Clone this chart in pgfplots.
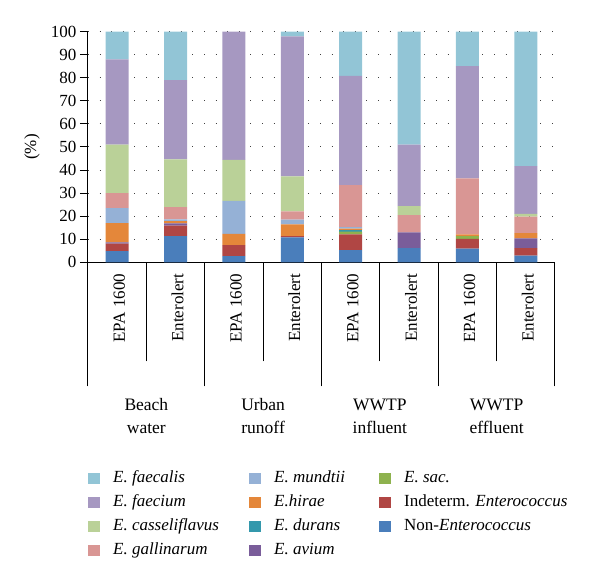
\documentclass[border=0pt]{standalone}
\usepackage{pgfplots}
\pgfplotsset{compat=1.18}
\usepackage{fontspec}
\setmainfont{Liberation Serif}
\definecolor{cFaecalis}{RGB}{146,197,214}
\definecolor{cFaecium}{RGB}{166,152,193}
\definecolor{cCass}{RGB}{186,209,152}
\definecolor{cGall}{RGB}{217,150,148}
\definecolor{cMund}{RGB}{149,177,214}
\definecolor{cHirae}{RGB}{228,135,58}
\definecolor{cDurans}{RGB}{52,152,172}
\definecolor{cAvium}{RGB}{122,93,154}
\definecolor{cSac}{RGB}{142,178,78}
\definecolor{cIndet}{RGB}{176,70,68}
\definecolor{cNonEnt}{RGB}{74,126,187}
\begin{document}
\begin{tikzpicture}[font=\fontsize{17}{20.4}\selectfont]
\useasboundingbox (0,0) rectangle (600pt,581pt);
\begin{axis}[
  at={(88pt,318.7pt)}, anchor=south west,
  scale only axis, width=467pt, height=230.6pt,
  ybar stacked, bar width=23pt,
  xmin=-0.5, xmax=7.5, ymin=0, ymax=100,
  axis x line*=bottom, axis y line*=left,
  axis line style={-, line width=1pt, black},
  ytick={0,10,...,100},
  /pgf/number format/assume math mode=true,
  tick align=outside,
  major tick length=8pt,
  every tick/.style={black, line width=1pt},
  ymajorgrids,
  major grid style={black!75, line width=1pt, dash pattern=on 1pt off 10.6pt},
  xtick={0,...,7},
  xticklabels={EPA 1600,Enterolert,EPA 1600,Enterolert,EPA 1600,Enterolert,EPA 1600,Enterolert},
  xticklabel style={rotate=90, anchor=east, yshift=-2pt},
  every major x tick/.append style={draw=none},
  minor xtick={0.5,2.5,4.5,6.5},
  minor tick length=99pt,
  every minor x tick/.append style={draw=black, line width=1pt},
  extra x ticks={-0.5,1.5,3.5,5.5,7.5},
  extra x tick labels={},
  extra x tick style={major tick length=124pt, every major x tick/.append style={draw=black, line width=1pt}, grid=none},
  ylabel={(\%)},
  ylabel style={at={(axis description cs:-0.12,0.5)}, anchor=center},
  clip=false,
  legend columns=3,
  legend image code/.code={\fill[#1, draw=none] (0pt,-5.5pt) rectangle (12pt,5.5pt);},
  legend style={at={(axis description cs:0,-0.9)}, anchor=north west, draw=none, fill=none, inner sep=0pt,
    nodes={inner xsep=0pt, inner ysep=0pt, text height=12pt, text depth=4pt},
    row sep=8.3pt,
    /tikz/every odd column/.append style={column sep=13pt},
    /tikz/every even column/.append style={column sep=0pt},
    legend cell align=left},
]
% bottom to top: Non-Ent, Indeterm, sac, avium, durans, hirae, mundtii, gallinarum, casseliflavus, faecium, faecalis
\addplot[fill=cNonEnt, draw=none, forget plot] coordinates {(0,4.9) (1,11.4) (2,2.7) (3,10.8) (4,5.3) (5,6.1) (6,5.9) (7,2.9)};
\addplot[fill=cIndet, draw=none, forget plot] coordinates {(0,3.2) (1,4.5) (2,4.8) (3,0.5) (4,6.8) (5,0) (6,4.3) (7,3.2)};
\addplot[fill=cSac, draw=none, forget plot] coordinates {(0,0) (1,0) (2,0) (3,0) (4,1.2) (5,0) (6,1.2) (7,0)};
\addplot[fill=cAvium, draw=none, forget plot] coordinates {(0,0.5) (1,1.0) (2,0) (3,0) (4,0) (5,6.9) (6,0) (7,4.3)};
\addplot[fill=cDurans, draw=none, forget plot] coordinates {(0,0) (1,0) (2,0) (3,0) (4,0.6) (5,0) (6,0) (7,0)};
\addplot[fill=cHirae, draw=none, forget plot] coordinates {(0,8.4) (1,1.0) (2,4.8) (3,5.2) (4,0.7) (5,0) (6,0.7) (7,2.2)};
\addplot[fill=cMund, draw=none, forget plot] coordinates {(0,6.5) (1,0.7) (2,14.3) (3,2.0) (4,0.7) (5,0) (6,0) (7,0)};
\addplot[fill=cGall, draw=none, forget plot] coordinates {(0,6.5) (1,5.3) (2,0) (3,3.6) (4,18.2) (5,7.5) (6,24.3) (7,7.2)};
\addplot[fill=cCass, draw=none, forget plot] coordinates {(0,21.0) (1,20.7) (2,17.8) (3,15.2) (4,0) (5,3.9) (6,0) (7,1.2)};
\addplot[fill=cFaecium, draw=none, forget plot] coordinates {(0,37.0) (1,34.4) (2,55.6) (3,60.7) (4,47.3) (5,26.6) (6,48.7) (7,20.7)};
\addplot[fill=cFaecalis, draw=none, forget plot] coordinates {(0,12.0) (1,21.0) (2,0) (3,2.0) (4,19.2) (5,49.0) (6,14.9) (7,58.3)};
% legend (row-major order of the three columns)
\addlegendimage{fill=cFaecalis}\addlegendentry{\makebox[136pt][l]{\textit{E. faecalis}}}
\addlegendimage{fill=cMund}\addlegendentry{\makebox[105pt][l]{\textit{E. mundtii}}}
\addlegendimage{fill=cSac}\addlegendentry{\textit{E. sac.}}
\addlegendimage{fill=cFaecium}\addlegendentry{\makebox[136pt][l]{\textit{E. faecium}}}
\addlegendimage{fill=cHirae}\addlegendentry{\makebox[105pt][l]{\textit{E.hirae}}}
\addlegendimage{fill=cIndet}\addlegendentry{Indeterm. \textit{Enterococcus}}
\addlegendimage{fill=cCass}\addlegendentry{\makebox[136pt][l]{\textit{E. casseliflavus}}}
\addlegendimage{fill=cDurans}\addlegendentry{\makebox[105pt][l]{\textit{E. durans}}}
\addlegendimage{fill=cNonEnt}\addlegendentry{Non-\textit{Enterococcus}}
\addlegendimage{fill=cGall}\addlegendentry{\makebox[136pt][l]{\textit{E. gallinarum}}}
\addlegendimage{fill=cAvium}\addlegendentry{\makebox[105pt][l]{\textit{E. avium}}}
% group labels
\node[align=center, font=\fontsize{17.5}{23}\selectfont] at (axis cs:0.5,0) [yshift=-153.7pt] {Beach\\water};
\node[align=center, font=\fontsize{17.5}{23}\selectfont] at (axis cs:2.5,0) [yshift=-153.7pt] {Urban\\runoff};
\node[align=center, font=\fontsize{17.5}{23}\selectfont] at (axis cs:4.5,0) [yshift=-153.7pt] {WWTP\\influent};
\node[align=center, font=\fontsize{17.5}{23}\selectfont] at (axis cs:6.5,0) [yshift=-153.7pt] {WWTP\\effluent};
\end{axis}
\end{tikzpicture}
\end{document}
